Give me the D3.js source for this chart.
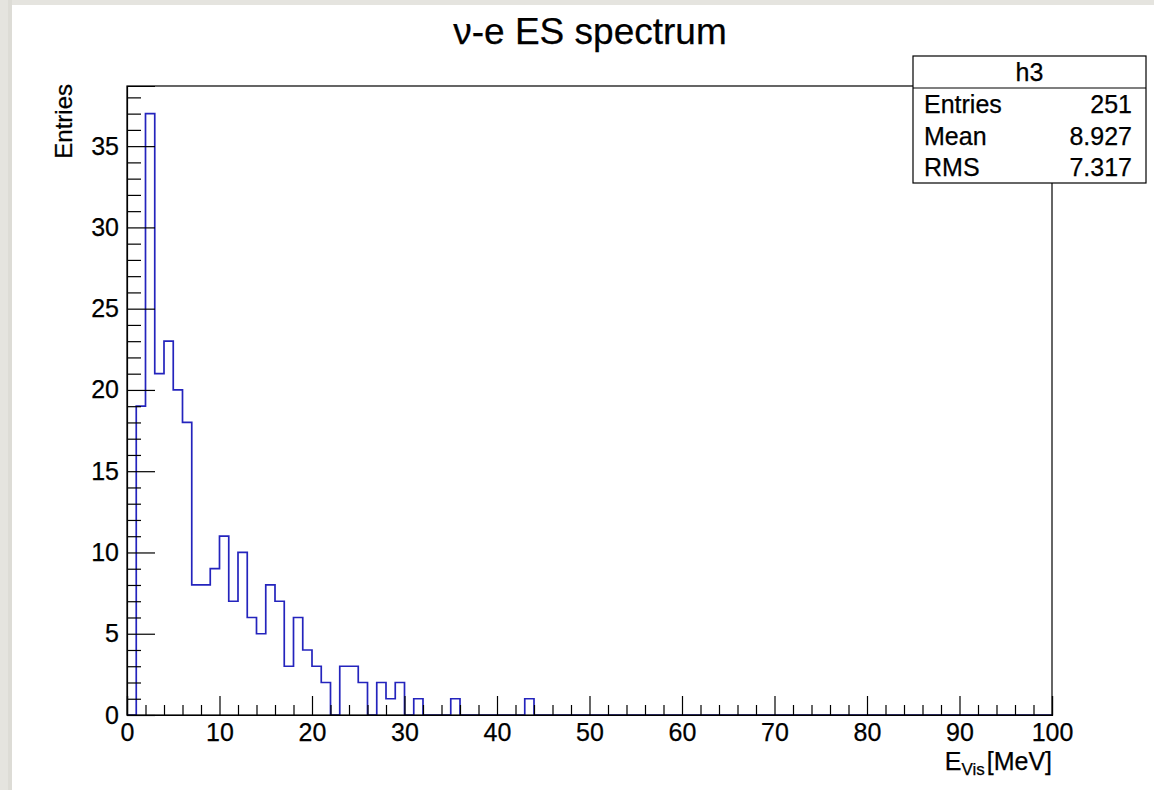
<!DOCTYPE html>
<html>
<head>
<meta charset="utf-8">
<script src="https://cdn.jsdelivr.net/npm/d3@7"></script>
<style>
  html, body { margin: 0; padding: 0; background: #ffffff; }
  svg { display: block; }
  text { font-family: "Liberation Sans", Arial, Helvetica, sans-serif; fill: #000; stroke: #000; stroke-width: 0.25px; }
</style>
</head>
<body>
<svg id="chart" width="1154" height="790"></svg>
<script>
// ---- data ----
const title = "ν-e ES spectrum";
const histName = "h3";
const binEdgesRange = [0, 100];       // MeV
const nBins = 100;
const counts = [
  0, 19, 37, 21, 23, 20, 18, 8, 8, 9,
  11, 7, 10, 6, 5, 8, 7, 3, 6, 4,
  3, 2, 0, 3, 3, 2, 0, 2, 1, 2,
  0, 1, 0, 0, 0, 1, 0, 0, 0, 0,
  0, 0, 0, 1, 0, 0, 0, 0, 0, 0,
  0, 0, 0, 0, 0, 0, 0, 0, 0, 0,
  0, 0, 0, 0, 0, 0, 0, 0, 0, 0,
  0, 0, 0, 0, 0, 0, 0, 0, 0, 0,
  0, 0, 0, 0, 0, 0, 0, 0, 0, 0,
  0, 0, 0, 0, 0, 0, 0, 0, 0, 0
];
const xMajorTicks = [0, 10, 20, 30, 40, 50, 60, 70, 80, 90, 100];
const yMajorTicks = [0, 5, 10, 15, 20, 25, 30, 35];
const yMax = 38.7;
const statLabels = ["Entries", "Mean", "RMS"];
const statValues = ["251", "8.927", "7.317"];
const xTitleMain = "E";
const xTitleSub = "Vis";
const xTitleUnit = "[MeV]";
const yTitle = "Entries";

// ---- layout ----
const W = 1154, H = 790;
const frame = { left: 127, right: 1052, top: 86, bottom: 715 };

const svg = d3.select("#chart");

// background border (screenshot frame)
svg.append("rect").attr("x", 0).attr("y", 0).attr("width", W).attr("height", H).attr("fill", "#e5e4df");
svg.append("rect").attr("x", 8).attr("y", 0).attr("width", 4).attr("height", H).attr("fill", "#dddcd6");
svg.append("rect").attr("x", 12).attr("y", 5).attr("width", W - 12).attr("height", H - 5).attr("fill", "#ffffff");

const x = d3.scaleLinear().domain(binEdgesRange).range([frame.left, frame.right]);
const y = d3.scaleLinear().domain([0, yMax]).range([frame.bottom, frame.top]);

// histogram step outline
const binW = (binEdgesRange[1] - binEdgesRange[0]) / nBins;
const pts = [[binEdgesRange[0], 0]];
counts.forEach((c, i) => {
  const lo = binEdgesRange[0] + i * binW, hi = lo + binW;
  pts.push([lo, c]);
  pts.push([hi, c]);
});
pts.push([binEdgesRange[1], 0]);
const line = d3.line().x(d => x(d[0])).y(d => y(d[1]));
svg.append("path")
  .attr("d", line(pts))
  .attr("fill", "none")
  .attr("stroke", "#2424bd")
  .attr("stroke-width", 1.7)
  .attr("stroke-linejoin", "miter");

// frame
svg.append("rect")
  .attr("x", frame.left).attr("y", frame.top)
  .attr("width", frame.right - frame.left).attr("height", frame.bottom - frame.top)
  .attr("fill", "none").attr("stroke", "#000").attr("stroke-width", 1.2);

const styleText = sel => sel.attr("font-size", 25).attr("font-family", "Liberation Sans, Arial, sans-serif")
  .attr("fill", "#000").attr("stroke", "#000").attr("stroke-width", 0.25);

// x axis minor ticks
const xMinor = d3.range(0, 101, 2).filter(v => v % 10 !== 0);
svg.append("g")
  .attr("transform", `translate(0,${frame.bottom})`)
  .call(d3.axisBottom(x).tickValues(xMinor).tickSize(-10).tickFormat(""))
  .call(g => g.select(".domain").remove())
  .call(g => g.selectAll("line").attr("stroke", "#000").attr("stroke-width", 1.2));
// x axis major
svg.append("g")
  .attr("transform", `translate(0,${frame.bottom})`)
  .call(d3.axisBottom(x).tickValues(xMajorTicks).tickSize(-19).tickPadding(8).tickFormat(d3.format("d")))
  .call(g => g.select(".domain").attr("stroke", "#000").attr("stroke-width", 1.2))
  .call(g => g.selectAll("line").attr("stroke", "#000").attr("stroke-width", 1.2))
  .call(g => styleText(g.selectAll("text")));

// y axis minor
const yMinor = d3.range(0, 39, 1).filter(v => v % 5 !== 0);
svg.append("g")
  .attr("transform", `translate(${frame.left},0)`)
  .call(d3.axisLeft(y).tickValues(yMinor).tickSize(-14).tickFormat(""))
  .call(g => g.select(".domain").remove())
  .call(g => g.selectAll("line").attr("stroke", "#000").attr("stroke-width", 1.2));
// y axis major
svg.append("g")
  .attr("transform", `translate(${frame.left},0)`)
  .call(d3.axisLeft(y).tickValues(yMajorTicks).tickSize(-28).tickPadding(8).tickFormat(d3.format("d")))
  .call(g => g.select(".domain").attr("stroke", "#000").attr("stroke-width", 1.2))
  .call(g => g.selectAll("line").attr("stroke", "#000").attr("stroke-width", 1.2))
  .call(g => styleText(g.selectAll("text")));

// title
svg.append("text")
  .attr("x", 590).attr("y", 44)
  .attr("text-anchor", "middle")
  .attr("font-size", 37)
  .text(title);

// y title
svg.append("text")
  .attr("transform", `translate(72,${frame.top - 2}) rotate(-90)`)
  .attr("text-anchor", "end")
  .attr("font-size", 24)
  .text(yTitle);

// x title
const xt = svg.append("text")
  .attr("x", frame.right).attr("y", 770)
  .attr("text-anchor", "end")
  .attr("font-size", 25);
xt.append("tspan").text(xTitleMain);
xt.append("tspan").attr("font-size", 17).attr("dy", 5).text(xTitleSub);
xt.append("tspan").attr("dy", -5).attr("dx", 2).text(xTitleUnit);

// stats box
const sb = { x: 913, y: 56, w: 233, h: 127, head: 32 };
const g = svg.append("g");
g.append("rect").attr("x", sb.x).attr("y", sb.y).attr("width", sb.w).attr("height", sb.h)
  .attr("fill", "#fff").attr("stroke", "#000").attr("stroke-width", 1.2);
g.append("line").attr("x1", sb.x).attr("x2", sb.x + sb.w).attr("y1", sb.y + sb.head).attr("y2", sb.y + sb.head)
  .attr("stroke", "#000").attr("stroke-width", 1.2);
g.append("text").attr("x", sb.x + sb.w / 2).attr("y", sb.y + 25).attr("text-anchor", "middle")
  .attr("font-size", 25).text(histName);
const rowH = (sb.h - sb.head) / statLabels.length;
statLabels.forEach((lab, i) => {
  const by = sb.y + sb.head + rowH * i + rowH / 2 + 9;
  g.append("text").attr("x", sb.x + 11).attr("y", by).attr("font-size", 25).text(lab);
  g.append("text").attr("x", sb.x + sb.w - 14).attr("y", by).attr("text-anchor", "end").attr("font-size", 25).text(statValues[i]);
});
</script>
</body>
</html>
